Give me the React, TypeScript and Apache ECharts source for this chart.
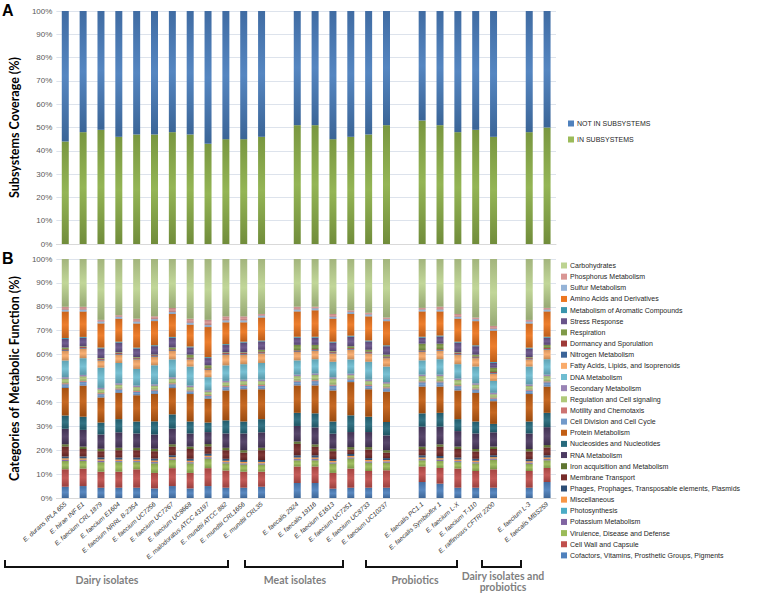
import React, { useEffect, useRef } from "react";
import * as echarts from "echarts";

// 28 slots: 25 strains + 3 empty gap slots between groups
const categories = [
  "E. durans IPLA 655", "E. hirae INF E1", "E. faecium CRL 1879", "E. faecium E1604",
  "E. faecium NRRL B-2354", "E. faecium UC7256", "E. faecium UC7267", "E. faecium UC8668",
  "E. malodoratus ATCC 43197", "E. mundtii ATCC 882", "E. mundtii CRL1656", "E. mundtii CRL35",
  " ",
  "E. faecalis 2924", "E. faecalis 19116", "E. faecium E1613", "E. faecium UC7251",
  "E. faecium UC8733", "E. faecium UC10237",
  "  ",
  "E. faecalis PC1.1", "E. faecalis Symbioflor 1", "E. faecium L-X", "E. faecium T-110",
  "E. raffinosus CFTRI 2200",
  "   ",
  "E. faecium L-3", "E. faecalis MBS259",
];

const groupLabels = ["Dairy isolates", "Meat isolates", "Probiotics", "Dairy isolates and", "probiotics"];

// Panel A (%), 25 strains
const inSubsystems = [44, 48, 49, 46, 47, 47, 48, 47, 43, 45, 45, 46, 51, 51, 45, 46, 47, 51, 53, 51, 48, 49, 46, 48, 50];
const notInSubsystems = [56, 52, 51, 54, 53, 53, 52, 53, 57, 55, 55, 54, 49, 49, 55, 54, 53, 49, 47, 49, 52, 51, 54, 52, 50];

// Panel B (% of features), 25 strains, bottom of stack first
const cofactors = [4.7, 5.0, 4.3, 4.3, 4.3, 4.0, 5.0, 4.0, 5.0, 4.3, 4.3, 4.7, 6.3, 6.3, 3.9, 4.3, 4.3, 4.3, 6.7, 6.0, 4.3, 4.3, 4.3, 4.3, 6.7];
const cellWall = [7.3, 7.3, 6.7, 6.7, 7.7, 6.5, 7.5, 6.5, 7.5, 7.2, 6.7, 6.3, 6.9, 6.9, 6.6, 8.0, 7.0, 7.3, 6.5, 6.6, 8.0, 7.0, 7.7, 7.0, 5.9];
const virulence = [3.5, 3.2, 4.0, 4.0, 3.0, 4.0, 3.5, 4.0, 4.0, 3.0, 3.0, 3.0, 2.6, 2.6, 3.9, 4.2, 3.5, 3.2, 2.6, 2.9, 2.7, 3.2, 4.0, 3.0, 3.2];
const potassium = [0.4, 0.4, 0.5, 0.4, 0.4, 0.5, 0.4, 0.4, 0.5, 0.4, 0.4, 0.4, 0.5, 0.5, 0.4, 0.4, 0.4, 0.4, 0.5, 0.5, 0.4, 0.4, 0.4, 0.4, 0.5];
const photosynthesis = [0.1, 0.1, 0.1, 0.1, 0.1, 0.1, 0.1, 0.1, 0.1, 0.1, 0.1, 0.1, 0.1, 0.1, 0.1, 0.1, 0.1, 0.1, 0.1, 0.1, 0.1, 0.1, 0.1, 0.1, 0.1];
const miscellaneous = [0.6, 0.6, 0.6, 0.6, 0.6, 0.6, 0.6, 0.6, 0.6, 0.6, 0.6, 0.6, 0.6, 0.6, 0.6, 0.6, 0.6, 0.6, 0.6, 0.6, 0.6, 0.6, 0.6, 0.6, 0.6];
const phages = [0.8, 0.8, 0.8, 0.8, 0.8, 0.8, 0.8, 0.8, 0.8, 0.8, 0.8, 0.8, 0.9, 0.9, 0.8, 0.8, 0.8, 0.8, 0.9, 0.9, 0.8, 0.8, 0.8, 0.8, 0.9];
const membrane = [4.1, 3.1, 2.6, 3.1, 3.1, 3.1, 3.6, 4.1, 3.1, 3.6, 3.1, 4.1, 4.8, 3.6, 3.3, 1.9, 3.6, 2.3, 2.6, 3.9, 3.6, 3.1, 2.6, 3.3, 3.3];
const iron = [1.0, 1.0, 1.0, 1.0, 1.0, 1.0, 1.0, 1.0, 1.0, 1.0, 1.0, 1.0, 1.0, 1.0, 1.0, 1.0, 1.0, 1.0, 1.0, 1.0, 1.0, 1.0, 1.0, 1.0, 1.0];
const rna = [6.5, 7.0, 6.0, 6.5, 6.0, 6.0, 6.5, 5.5, 5.0, 6.0, 7.0, 6.5, 6.5, 7.1, 6.3, 6.3, 6.3, 6.2, 8.4, 7.4, 6.5, 6.5, 6.0, 6.5, 7.5];
const nucleosides = [5.5, 5.5, 5.0, 5.5, 5.0, 5.5, 6.0, 5.0, 4.0, 5.5, 5.0, 5.5, 5.5, 5.9, 5.1, 7.0, 6.4, 5.6, 5.6, 5.8, 5.0, 5.0, 3.5, 5.0, 6.0];
const protein = [11.5, 13.0, 10.5, 11.0, 11.0, 11.5, 11.0, 11.5, 10.0, 12.5, 13.5, 12.5, 11.5, 11.7, 13.0, 13.9, 11.5, 12.7, 11.2, 11.0, 12.0, 12.0, 9.5, 11.5, 11.0];
const cellDivision = [1.6, 1.6, 1.4, 1.4, 1.4, 1.4, 1.6, 1.1, 1.1, 1.4, 1.4, 1.4, 1.6, 1.8, 2.0, 1.1, 1.4, 1.4, 1.8, 1.8, 1.8, 1.4, 1.1, 1.4, 1.8];
const motility = [0.4, 0.4, 0.4, 0.4, 0.4, 0.4, 0.4, 0.4, 0.4, 0.4, 0.4, 0.4, 0.4, 0.4, 0.4, 0.4, 0.4, 0.4, 0.4, 0.4, 0.4, 0.4, 0.4, 0.4, 0.4];
const regulation = [1.9, 1.9, 1.6, 1.6, 1.6, 1.6, 1.9, 1.4, 1.4, 1.6, 1.6, 1.6, 1.9, 2.2, 2.5, 1.4, 1.6, 1.6, 2.2, 2.2, 2.2, 1.6, 1.4, 1.6, 2.2];
const secondary = [0.6, 0.6, 0.6, 0.6, 0.6, 0.6, 0.6, 0.6, 0.6, 0.6, 0.6, 0.6, 0.6, 0.6, 0.6, 0.6, 0.6, 0.6, 0.6, 0.6, 0.6, 0.6, 0.6, 0.6, 0.6];
const dna = [7.0, 7.0, 8.5, 8.5, 7.0, 8.0, 7.5, 8.0, 5.5, 6.5, 6.5, 7.0, 6.0, 6.0, 6.5, 6.0, 7.5, 6.5, 6.0, 6.5, 6.0, 7.0, 5.0, 7.5, 6.5];
const fattyAcids = [4.0, 4.0, 3.0, 3.5, 4.0, 3.5, 3.5, 3.0, 3.0, 4.5, 4.0, 4.0, 3.5, 3.5, 3.5, 4.0, 3.5, 3.5, 3.5, 3.5, 4.0, 3.5, 3.0, 3.0, 4.0];
const nitrogen = [0.3, 0.3, 0.3, 0.3, 0.3, 0.3, 0.3, 0.3, 0.3, 0.3, 0.3, 0.3, 0.3, 0.3, 0.3, 0.3, 0.3, 0.3, 0.3, 0.3, 0.3, 0.3, 0.3, 0.3, 0.3];
const dormancy = [0.4, 0.4, 0.4, 0.4, 0.4, 0.4, 0.4, 0.4, 0.4, 0.4, 0.4, 0.4, 0.4, 0.4, 0.4, 0.4, 0.4, 0.4, 0.4, 0.4, 0.4, 0.4, 0.4, 0.4, 0.4];
const respiration = [0.8, 0.3, 0.3, 0.3, 0.3, 0.3, 0.8, 1.3, 1.3, 0.3, 0.3, 0.8, 2.3, 1.8, 0.3, 0.8, 0.8, 0.8, 2.8, 2.3, 0.3, 0.8, 1.8, 0.3, 1.3];
const stress = [3.5, 3.5, 4.0, 4.0, 3.5, 3.5, 4.0, 3.0, 3.0, 3.0, 4.0, 3.5, 3.0, 3.0, 3.5, 4.0, 3.5, 3.5, 2.5, 3.0, 4.0, 3.5, 2.0, 3.5, 3.0];
const aromatic = [0.4, 0.4, 0.4, 0.4, 0.4, 0.4, 0.4, 0.4, 0.4, 0.4, 0.4, 0.4, 0.4, 0.4, 0.4, 0.4, 0.4, 0.4, 0.4, 0.4, 0.4, 0.4, 0.4, 0.4, 0.4];
const aminoAcids = [11.1, 10.6, 10.1, 9.6, 10.1, 10.1, 9.6, 9.1, 12.6, 9.1, 8.1, 9.6, 10.6, 11.1, 9.6, 9.1, 10.1, 10.1, 10.6, 10.1, 9.6, 10.1, 13.1, 10.1, 10.6];
const sulfur = [0.8, 0.8, 0.8, 0.8, 0.8, 0.8, 0.8, 0.8, 0.8, 0.8, 0.8, 0.8, 0.8, 0.8, 0.8, 0.8, 0.8, 0.8, 0.8, 0.8, 0.8, 0.8, 0.8, 0.8, 0.8];
const phosphorus = [1.2, 1.2, 0.7, 0.7, 1.2, 1.2, 1.7, 1.7, 2.2, 1.7, 1.7, 0.7, 1.2, 0.7, 1.2, 0.7, 0.7, 0.7, 0.7, 1.2, 1.2, 0.7, 1.2, 0.7, 0.7];
const carbohydrates = [20.0, 20.0, 25.5, 23.5, 25.0, 24.0, 20.5, 25.0, 25.5, 24.0, 24.0, 23.0, 20.0, 20.0, 23.0, 21.5, 22.5, 24.5, 20.5, 20.0, 23.0, 24.5, 28.0, 25.5, 20.5];

const functionNames = [
  "Cofactors, Vitamins, Prosthetic Groups, Pigments", "Cell Wall and Capsule", "Virulence, Disease and Defense",
  "Potassium Metabolism", "Photosynthesis", "Miscellaneous", "Phages, Prophages, Transposable elements, Plasmids",
  "Membrane Transport", "Iron acquisition and Metabolism", "RNA Metabolism", "Nucleosides and Nucleotides",
  "Protein Metabolism", "Cell Division and Cell Cycle", "Motility and Chemotaxis", "Regulation and Cell signaling",
  "Secondary Metabolism", "DNA Metabolism", "Fatty Acids, Lipids, and Isoprenoids", "Nitrogen Metabolism",
  "Dormancy and Sporulation", "Respiration", "Stress Response", "Metabolism of Aromatic Compounds",
  "Amino Acids and Derivatives", "Sulfur Metabolism", "Phosphorus Metabolism", "Carbohydrates",
];
const functionValues = [
  cofactors, cellWall, virulence, potassium, photosynthesis, miscellaneous, phages, membrane, iron, rna,
  nucleosides, protein, cellDivision, motility, regulation, secondary, dna, fattyAcids, nitrogen, dormancy,
  respiration, stress, aromatic, aminoAcids, sulfur, phosphorus, carbohydrates,
];
const functionColors = [
  "#4F81BD", "#C0504D", "#9BBB59", "#8064A2", "#4BACC6", "#F79646", "#2C4D75", "#772C2A", "#5F7530",
  "#4D3B62", "#276A7C", "#C25E14", "#729ACA", "#CD7371", "#AFC97A", "#9983B5", "#6FBDD1", "#F9AB6B",
  "#3B6498", "#9E3A38", "#7F9A48", "#69548A", "#3A95AD", "#EC7620", "#95B3D7", "#D99694", "#BDD391",
];

function adjust(hex: string, f: number) {
  const n = parseInt(hex.slice(1), 16);
  const ch = [(n >> 16) & 255, (n >> 8) & 255, n & 255].map((c) =>
    Math.round(f <= 1 ? c * f : c + (255 - c) * (f - 1))
  );
  return "rgb(" + ch.join(",") + ")";
}
function grad(c: string) {
  return new echarts.graphic.LinearGradient(0, 0, 0, 1, [
    { offset: 0, color: adjust(c, 0.86) },
    { offset: 0.5, color: adjust(c, 1.06) },
    { offset: 1, color: adjust(c, 0.8) },
  ]);
}

// place the 25 strain values into the 28 slots (gaps stay empty)
function toSlots(vals: (number | string)[]) {
  const out: (number | string)[] = [];
  let k = 0;
  categories.forEach((c) => {
    if (c.trim() === "") out.push("-");
    else out.push(vals[k++]);
  });
  return out;
}

const FONT = "Liberation Sans, Arial, sans-serif";
const TFONT = "Lato, Liberation Sans, sans-serif";

export default function App() {
  const ref = useRef<HTMLDivElement>(null);
  useEffect(() => {
    if (!ref.current) return;
    const chart = echarts.init(ref.current, null, { renderer: "svg" });
    const totals = cofactors.map((_, i) => functionValues.reduce((s, arr) => s + arr[i], 0));
    const pct = (arr: number[]) => arr.map((v, i) => +((v / totals[i]) * 100).toFixed(3));

    const yAxisCommon = {
      type: "value",
      min: 0,
      max: 100,
      interval: 10,
      axisLine: { show: false },
      axisTick: { show: false },
      axisLabel: { formatter: "{value}%", fontSize: 8, color: "#595959", fontFamily: FONT, margin: 4 },
      splitLine: { lineStyle: { color: "#dde3ec", width: 1 } },
      nameLocation: "middle",
      nameTextStyle: { fontSize: 12.5, fontWeight: "bold", color: "#000", fontFamily: TFONT },
    };

    const option: any = {
      animation: false,
      grid: [
        { left: 42, right: 204, top: 11, height: 233 },
        { left: 42, right: 204, top: 259, height: 239 },
      ],
      xAxis: [
        {
          type: "category", gridIndex: 0, data: categories,
          axisLine: { lineStyle: { color: "#d9d9d9" } }, axisTick: { show: false }, axisLabel: { show: false },
        },
        {
          type: "category", gridIndex: 1, data: categories,
          axisLine: { lineStyle: { color: "#d9d9d9" } }, axisTick: { show: false },
          axisLabel: {
            interval: 0, rotate: 42, fontSize: 6.5, fontStyle: "italic", color: "#333",
            fontFamily: FONT, margin: 5,
          },
        },
      ],
      yAxis: [
        { ...yAxisCommon, gridIndex: 0, name: "Subsystems Coverage (%)", nameGap: 27 },
        { ...yAxisCommon, gridIndex: 1, name: "Categories of Metabolic Function (%)", nameGap: 27 },
      ],
      legend: [
        {
          orient: "vertical", left: 563, top: 115, itemWidth: 6, itemHeight: 6, itemGap: 9,
          icon: "rect", selectedMode: false,
          textStyle: { fontSize: 7, color: "#262626", fontFamily: FONT, padding: [0, 0, 0, -2] },
          data: [
            { name: "NOT IN SUBSYSTEMS", itemStyle: { color: "#4F81BD" } },
            { name: "IN SUBSYSTEMS", itemStyle: { color: "#9BBB59" } },
          ],
        },
        {
          orient: "vertical", left: 556, top: 257, itemWidth: 6, itemHeight: 6, itemGap: 4.15,
          icon: "rect", selectedMode: false,
          textStyle: { fontSize: 7, color: "#262626", fontFamily: FONT, padding: [0, 0, 0, -2] },
          data: functionNames
            .map((n, i) => ({ name: n, itemStyle: { color: functionColors[i] } }))
            .reverse(),
        },
      ],
      series: [
        {
          name: "IN SUBSYSTEMS", type: "bar", stack: "a", xAxisIndex: 0, yAxisIndex: 0, barWidth: 7,
          data: toSlots(inSubsystems), itemStyle: { color: grad("#8DB04A") },
        },
        {
          name: "NOT IN SUBSYSTEMS", type: "bar", stack: "a", xAxisIndex: 0, yAxisIndex: 0, barWidth: 7,
          data: toSlots(notInSubsystems), itemStyle: { color: grad("#4A7EBD") },
        },
        ...functionNames.map((n, i) => ({
          name: n, type: "bar", stack: "b", xAxisIndex: 1, yAxisIndex: 1, barWidth: 7,
          data: toSlots(pct(functionValues[i])),
          itemStyle: { color: grad(functionColors[i]) },
        })),
      ],
      graphic: [
        { type: "text", left: 2, top: 2, style: { text: "A", fontSize: 16, fontWeight: "bold", fill: "#000", fontFamily: FONT } },
        { type: "text", left: 2, top: 250, style: { text: "B", fontSize: 16, fontWeight: "bold", fill: "#000", fontFamily: FONT } },
        { type: "polyline", shape: { points: [[5, 560], [5, 567], [228, 567], [228, 560]] }, style: { stroke: "#111", lineWidth: 2, fill: "none" } },
        { type: "polyline", shape: { points: [[245, 560], [245, 567], [343, 567], [343, 560]] }, style: { stroke: "#111", lineWidth: 2, fill: "none" } },
        { type: "polyline", shape: { points: [[366, 560], [366, 567], [457, 567], [457, 560]] }, style: { stroke: "#111", lineWidth: 2, fill: "none" } },
        { type: "polyline", shape: { points: [[482, 560], [482, 567], [521, 567], [521, 560]] }, style: { stroke: "#111", lineWidth: 2, fill: "none" } },
        { type: "text", x: 107, y: 580, style: { text: groupLabels[0], fontSize: 10.5, fontWeight: "bold", fill: "#7f7f7f", fontFamily: TFONT, align: "center", verticalAlign: "middle" } },
        { type: "text", x: 295, y: 580, style: { text: groupLabels[1], fontSize: 10.5, fontWeight: "bold", fill: "#7f7f7f", fontFamily: TFONT, align: "center", verticalAlign: "middle" } },
        { type: "text", x: 415, y: 580, style: { text: groupLabels[2], fontSize: 10.5, fontWeight: "bold", fill: "#7f7f7f", fontFamily: TFONT, align: "center", verticalAlign: "middle" } },
        { type: "text", x: 503, y: 575.5, style: { text: groupLabels[3], fontSize: 10.5, fontWeight: "bold", fill: "#7f7f7f", fontFamily: TFONT, align: "center", verticalAlign: "middle" } },
        { type: "text", x: 503, y: 587, style: { text: groupLabels[4], fontSize: 10.5, fontWeight: "bold", fill: "#7f7f7f", fontFamily: TFONT, align: "center", verticalAlign: "middle" } },
      ],
    };
    chart.setOption(option);
    return () => chart.dispose();
  }, []);
  return (
    <div
      ref={ref}
      style={{ position: "absolute", left: 0, top: 0, width: 760, height: 594, background: "#fff" }}
    />
  );
}
